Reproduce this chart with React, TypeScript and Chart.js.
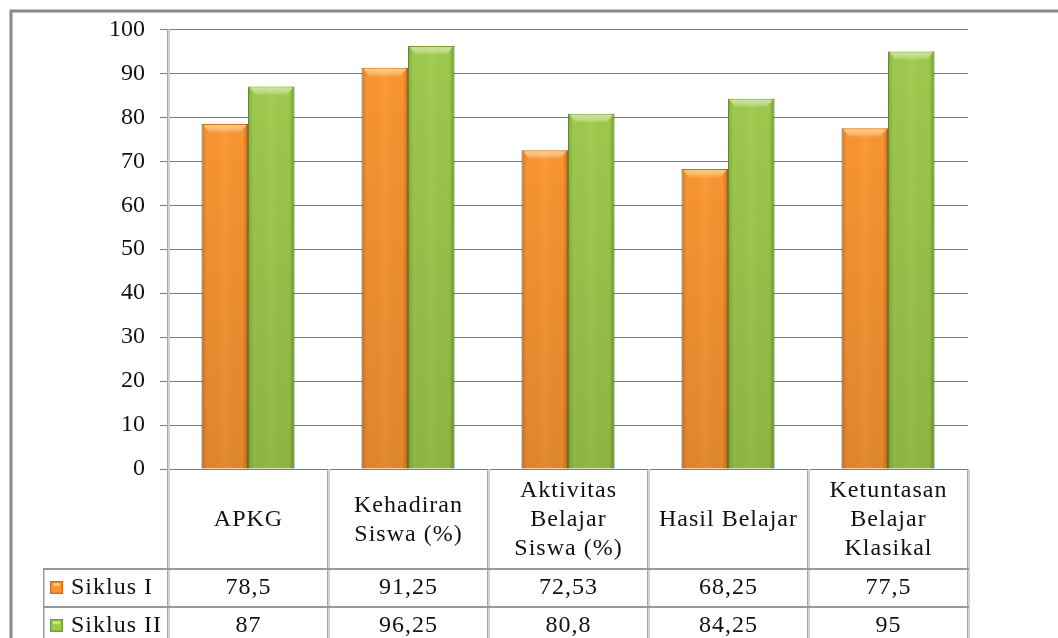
import { useEffect, useRef } from "react";
import { Chart, registerables } from "chart.js";

Chart.register(...registerables);

// ---- Data ----
const categoryLines: string[][] = [
  ["APKG"],
  ["Kehadiran", "Siswa (%)"],
  ["Aktivitas", "Belajar", "Siswa (%)"],
  ["Hasil Belajar"],
  ["Ketuntasan", "Belajar", "Klasikal"],
];
const seriesNames = ["Siklus I", "Siklus II"];
const siklusI = [78.5, 91.25, 72.53, 68.25, 77.5];
const siklusII = [87, 96.25, 80.8, 84.25, 95];
const yMin = 0;
const yMax = 100;
const yStep = 10;

// ---- Styles ----
const FONT = '"Liberation Serif", "Times New Roman", serif';
const ORANGE = "#FA952F";
const ORANGE_EDGE = "#D46E1E";
const ORANGE_CAP = "#FFC766";
const GREEN = "#9DCA4B";
const GREEN_EDGE = "#76A034";
const GREEN_CAP = "#C6E385";

const fmt = (v: number) => String(v).replace(".", ",");

const barShadePlugin = {
  id: "barShade",
  afterDatasetsDraw(chart: any) {
    const ctx = chart.ctx as CanvasRenderingContext2D;
    chart.data.datasets.forEach((_ds: any, di: number) => {
      const meta = chart.getDatasetMeta(di);
      const cap = di === 0 ? ORANGE_CAP : GREEN_CAP;
      meta.data.forEach((bar: any) => {
        const { x, y, base, width } = bar.getProps(["x", "y", "base", "width"], true);
        const l = x - width / 2;
        const r = x + width / 2;
        const h = base - y;
        ctx.save();
        const g = ctx.createLinearGradient(l, 0, r, 0);
        g.addColorStop(0, "rgba(0,0,0,0.16)");
        g.addColorStop(0.12, "rgba(0,0,0,0)");
        g.addColorStop(0.5, "rgba(255,255,255,0.06)");
        g.addColorStop(0.88, "rgba(0,0,0,0)");
        g.addColorStop(1, "rgba(0,0,0,0.22)");
        ctx.fillStyle = g;
        ctx.fillRect(l, y, width, h);
        const gv = ctx.createLinearGradient(0, y, 0, base);
        gv.addColorStop(0, "rgba(0,0,0,0)");
        gv.addColorStop(1, "rgba(0,0,0,0.10)");
        ctx.fillStyle = gv;
        ctx.fillRect(l, y, width, h);
        const capH = 9;
        const gc = ctx.createLinearGradient(0, y, 0, y + capH);
        gc.addColorStop(0, cap);
        gc.addColorStop(1, "rgba(255,255,255,0)");
        ctx.fillStyle = gc;
        ctx.beginPath();
        ctx.moveTo(l + 1.5, y + 1);
        ctx.lineTo(r - 1.5, y + 1);
        ctx.lineTo(r - 8, y + capH);
        ctx.lineTo(l + 8, y + capH);
        ctx.closePath();
        ctx.fill();
        ctx.restore();
      });
    });
  },
};

const tablePlugin = {
  id: "dataTable",
  afterDraw(chart: any) {
    const ctx = chart.ctx as CanvasRenderingContext2D;
    const area = chart.chartArea;
    const xs = chart.scales.x;
    const n = chart.data.labels.length;
    const colW = (area.right - area.left) / n;
    const headerTop = area.bottom;
    const headerBottom = headerTop + 100;
    const rowH = 38;
    const legendLeft = 43;
    const H = chart.height;
    const W = chart.width;

    ctx.save();
    ctx.strokeStyle = "#8a8a8a";
    ctx.lineWidth = 3;
    ctx.beginPath();
    ctx.moveTo(11, H);
    ctx.lineTo(11, 11);
    ctx.lineTo(W, 11);
    ctx.stroke();

    for (let i = 0; i <= n; i++) {
      const xp = Math.round(area.left + i * colW);
      const top = i === 0 ? area.top : headerTop;
      ctx.fillStyle = "#d2d2d2";
      ctx.fillRect(xp - 1, top, 3, H - top);
      ctx.fillStyle = "#a8a8a8";
      ctx.fillRect(xp - 1, top, 1, H - top);
    }
    ctx.fillStyle = "#9a9a9a";
    ctx.fillRect(legendLeft, headerBottom, 1.5, H - headerBottom);
    for (let r = 0; r < seriesNames.length; r++) {
      const yp = headerBottom + r * rowH;
      ctx.fillRect(legendLeft, yp - 1, area.right - legendLeft + 1, 2);
    }

    ctx.fillStyle = "#111";
    ctx.font = `24px ${FONT}`;
    (ctx as any).letterSpacing = "1px";
    ctx.textAlign = "center";
    ctx.textBaseline = "middle";
    const lineH = 29;
    const headerMid = (headerTop + headerBottom) / 2 + 1;
    categoryLines.forEach((lines, i) => {
      const cx = xs.getPixelForValue(i) + 0.5;
      const startY = headerMid - ((lines.length - 1) * lineH) / 2;
      lines.forEach((t, j) => ctx.fillText(t, cx, startY + j * lineH));
    });

    const rows = [siklusI, siklusII];
    rows.forEach((vals, r) => {
      const cy = headerBottom + r * rowH + rowH / 2;
      vals.forEach((v, i) => {
        ctx.fillStyle = "#111";
        ctx.textAlign = "center";
        ctx.fillText(fmt(v), xs.getPixelForValue(i) + 0.5, cy);
      });
      const main = r === 0 ? ORANGE : GREEN;
      const edge = r === 0 ? ORANGE_EDGE : GREEN_EDGE;
      const capc = r === 0 ? ORANGE_CAP : GREEN_CAP;
      const kx = 50, ky = cy - 7, ks = 13;
      ctx.fillStyle = edge;
      ctx.fillRect(kx, ky, ks, ks);
      ctx.fillStyle = main;
      ctx.fillRect(kx + 1.5, ky + 1.5, ks - 3, ks - 3);
      ctx.fillStyle = capc;
      ctx.fillRect(kx + 3, ky + 2, ks - 6, 3);
      ctx.fillStyle = "#111";
      ctx.textAlign = "left";
      ctx.fillText(seriesNames[r], 71, cy);
    });
    ctx.restore();
  },
};

export default function App() {
  const canvasRef = useRef<HTMLCanvasElement | null>(null);

  useEffect(() => {
    if (!canvasRef.current) return;
    const chart = new Chart(canvasRef.current, {
      type: "bar",
      data: {
        labels: categoryLines.map((l) => l.join(" ")),
        datasets: [
          {
            label: seriesNames[0],
            data: siklusI,
            backgroundColor: ORANGE,
            borderColor: ORANGE_EDGE,
            borderWidth: 1,
            categoryPercentage: 0.58,
            barPercentage: 1,
          },
          {
            label: seriesNames[1],
            data: siklusII,
            backgroundColor: GREEN,
            borderColor: GREEN_EDGE,
            borderWidth: 1,
            categoryPercentage: 0.58,
            barPercentage: 1,
          },
        ],
      },
      options: {
        animation: false,
        responsive: true,
        maintainAspectRatio: false,
        layout: { padding: { left: 0, right: 90, top: 26, bottom: 169 } },
        plugins: {
          legend: { display: false },
          tooltip: { enabled: false },
        },
        scales: {
          x: { display: false },
          y: {
            min: yMin,
            max: yMax,
            ticks: {
              stepSize: yStep,
              padding: 15,
              color: "#111",
              font: { family: FONT, size: 24 },
            },
            grid: { color: "#7a7a7a", lineWidth: 1, tickLength: 8 },
            border: { display: false },
            afterFit: (scale: any) => {
              scale.width = 168;
            },
          },
        },
      },
      plugins: [barShadePlugin, tablePlugin],
    });
    return () => chart.destroy();
  }, []);

  return (
    <div style={{ position: "absolute", left: 0, top: 0, width: 1058, height: 638, background: "#fff" }}>
      <canvas ref={canvasRef} />
    </div>
  );
}
